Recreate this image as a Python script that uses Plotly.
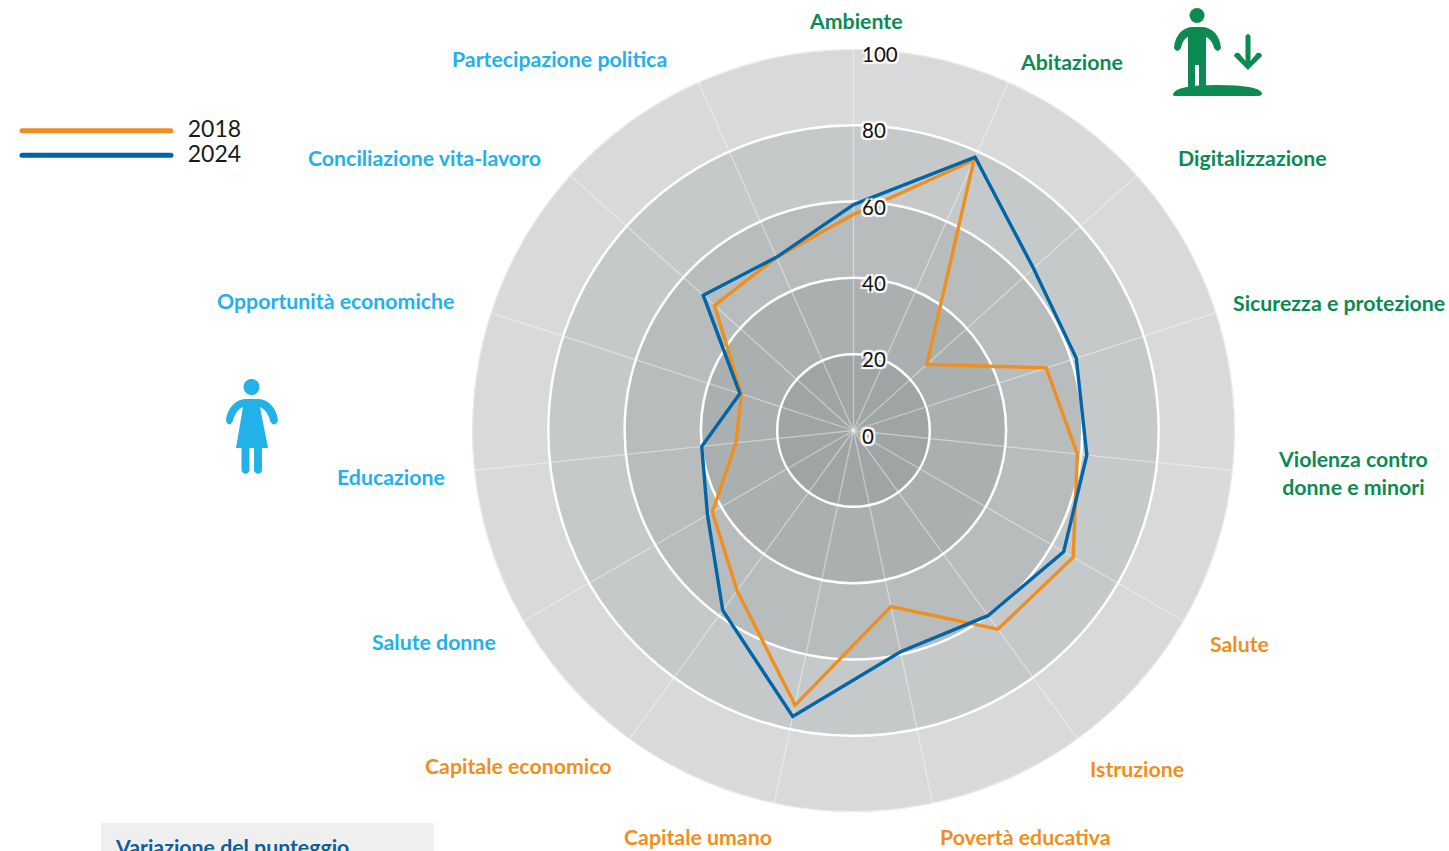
import plotly.graph_objects as go

W, H = 1449, 851

categories = ["Ambiente", "Abitazione", "Digitalizzazione", "Sicurezza e protezione",
              "Violenza contro<br>donne e minori", "Salute", "Istruzione", "Povertà educativa",
              "Capitale umano", "Capitale economico", "Salute donne", "Educazione",
              "Opportunità economiche", "Conciliazione vita-lavoro", "Partecipazione politica"]
values_2018 = [56.6, 77.6, 25.9, 53.1, 59.0, 66.5, 64.4, 47.2, 73.6, 51.9, 42.7, 31.0, 30.9, 49.0, 49.7]
values_2024 = [59.2, 78.4, 63.5, 61.4, 61.5, 63.6, 60.0, 59.3, 76.6, 58.3, 44.2, 40.0, 31.3, 53.0, 49.7]
ring_values = [100, 80, 60, 40, 20]
ring_colors = ["#d7d9da", "#c5c9ca", "#b8bcbd", "#aaafaf", "#9fa4a4"]
ring_edges = ["#e9eaea", "#ffffff", "#ffffff", "#ffffff", "#ffffff"]
tick_values = [0, 20, 40, 60, 80, 100]

GREEN, SKY, ORANGE, BLUE = "#0b8a52", "#22b1e8", "#ee8f20", "#0066a8"
label_colors = [GREEN] * 5 + [ORANGE] * 5 + [SKY] * 5
label_pos = [(855.5, 21.5), (1071.5, 61.5), (1252, 157.5), (1339, 302.5), (1352.5, 473), (1239, 643.5), (1137, 768.5),
             (1025, 836.5), (698, 836.5), (518, 765.5), (434, 641.5), (391, 476.5), (335.5, 300.5), (424.5, 157.5), (559.5, 59.5)]


def fx(x):
    return x / W


def fy(y):
    return 1 - y / H


def path(cmds):
    out = []
    for c in cmds:
        pts = " ".join(f"{fx(c[i]):.5f},{fy(c[i + 1]):.5f}" for i in range(1, len(c), 2))
        out.append(c[0] + pts)
    return " ".join(out) + " Z"


def paper_shape(p, color):
    return dict(type="path", xref="paper", yref="paper", path=p, fillcolor=color, line=dict(width=0), layer="above")


def circle(cx, cy, r, color):
    return dict(type="circle", xref="paper", yref="paper", x0=fx(cx - r), x1=fx(cx + r), y0=fy(cy + r), y1=fy(cy - r),
                fillcolor=color, line=dict(width=0))


man = path([("M", 1174, 48), ("Q", 1177, 54, 1181, 48), ("C", 1182, 43, 1184, 39, 1188, 37), ("L", 1188, 88),
            ("L", 1195, 88), ("L", 1195, 65), ("L", 1199, 65), ("L", 1199, 88), ("L", 1206, 88), ("L", 1206, 37),
            ("C", 1210, 39, 1213, 43, 1214, 48), ("Q", 1218, 54, 1221, 48), ("C", 1220, 35, 1212, 27, 1201, 27),
            ("L", 1193, 27), ("C", 1183, 27, 1175, 35, 1174, 48)])
ground = path([("M", 1173, 94), ("Q", 1176, 85, 1217, 85), ("Q", 1259, 85, 1262, 93), ("Q", 1262, 96, 1258, 96),
               ("L", 1177, 96), ("Q", 1172, 96, 1173, 94)])
arrow = path([("M", 1245.5, 36), ("Q", 1248, 32, 1250.5, 36), ("L", 1250.5, 61), ("L", 1257, 53), ("Q", 1261, 52, 1262, 56),
              ("L", 1248, 70), ("L", 1234, 56), ("Q", 1235, 52, 1239, 53), ("L", 1245.5, 61)])
woman = path([("M", 226, 421), ("Q", 229, 428, 233, 421), ("C", 234, 415, 238, 409, 243, 407), ("L", 236, 448),
              ("L", 241.5, 448), ("L", 241.5, 471), ("Q", 245.5, 477, 249.5, 471), ("L", 249.5, 448), ("L", 254, 448),
              ("L", 254, 471), ("Q", 258, 477, 262, 471), ("L", 262, 448), ("L", 268, 448), ("L", 260, 407),
              ("C", 265, 409, 269, 415, 270, 421), ("Q", 274, 428, 278, 421), ("C", 277, 408, 268, 399, 258, 399),
              ("L", 246, 399), ("C", 236, 399, 227, 408, 226, 421)])

shapes = [
    paper_shape(man, GREEN), paper_shape(ground, GREEN), paper_shape(arrow, GREEN), circle(1197, 15.5, 7.5, GREEN),
    paper_shape(woman, SKY), circle(251.5, 387, 8, SKY),
    dict(type="rect", xref="paper", yref="paper", x0=fx(101), x1=fx(434), y0=fy(851), y1=fy(823),
         fillcolor="#efefef", line=dict(width=0), layer="below"),
]

annotations = []
for name, col, (x, y) in zip(categories, label_colors, label_pos):
    annotations.append(dict(text=f"<b>{name}</b>", x=fx(x), y=fy(y), xref="paper", yref="paper", showarrow=False,
                            xanchor="center", yanchor="middle", font=dict(family="Lato", size=21.3, color=col)))
annotations.append(dict(text="<b>Variazione del punteggio</b>", x=fx(113), y=fy(846.5), xref="paper", yref="paper",
                        showarrow=False, xanchor="left", yanchor="middle", font=dict(family="Lato", size=21.3, color="#0a5f9e")))

fig = go.Figure()
fig.add_trace(go.Barpolar(r=ring_values, theta=[categories[0]] * 5, width=[15] * 5, showlegend=False, hoverinfo="skip",
                          marker=dict(color=ring_colors, line=dict(color=ring_edges, width=2.5))))
spoke_r, spoke_t = [], []
for c in categories:
    spoke_r += [0, 100, None]
    spoke_t += [c, c, c]
fig.add_trace(go.Scatterpolar(r=spoke_r, theta=spoke_t, mode="lines", showlegend=False, hoverinfo="skip",
                              line=dict(color="rgba(255,255,255,0.42)", width=1.3)))
for yr, vals, col in [(2018, values_2018, ORANGE), (2024, values_2024, BLUE)]:
    fig.add_trace(go.Scatterpolar(r=vals + vals[:1], theta=categories + categories[:1], mode="lines",
                                  name=f"<span style='font-size:23px'>\u00a0\u00a0{yr}</span>",
                                  line=dict(color=col, width=3.4)))

halo = "-2px -2px 1px #fff, 2px -2px 1px #fff, -2px 2px 1px #fff, 2px 2px 1px #fff, 0 0 3px #fff"
fig.update_layout(
    width=W, height=H, margin=dict(l=0, r=0, t=0, b=0), paper_bgcolor="white", plot_bgcolor="white",
    shapes=shapes, annotations=annotations,
    font=dict(family="Lato", color="#1a1a1a"),
    legend=dict(x=fx(17), y=fy(113.5), xanchor="left", yanchor="top", itemwidth=149, itemsizing="constant",
                font=dict(family="Lato", size=16.5, color="#1a1a1a"), bgcolor="rgba(0,0,0,0)", traceorder="normal"),
    polar=dict(
        domain=dict(x=[fx(853.5 - 381.5), fx(853.5 + 381.5)], y=[fy(430.5 + 381.5), fy(430.5 - 381.5)]),
        bgcolor="rgba(0,0,0,0)", barmode="overlay",
        angularaxis=dict(direction="clockwise", rotation=90, type="category", categoryorder="array",
                         categoryarray=categories, showticklabels=False, showgrid=False, showline=False, ticks=""),
        radialaxis=dict(range=[0, 100], angle=90, tickangle=90, side="clockwise", tickmode="array", tickvals=tick_values,
                        showgrid=False, showline=False, ticks="", layer="above traces",
                        tickfont=dict(family="Lato", size=20.5, color="#111111", shadow=halo)),
    ),
)
post = ("document.body.style.margin='0';"
        "document.querySelectorAll('.legendlines path').forEach(function(p){p.style.strokeLinecap='round';});"
        "document.querySelectorAll('.radial-axis text').forEach(function(t){t.setAttribute('dx','8');t.setAttribute('dy','6.5');});")
fig.write_html("out.html", config={"displayModeBar": False}, post_script=post)
